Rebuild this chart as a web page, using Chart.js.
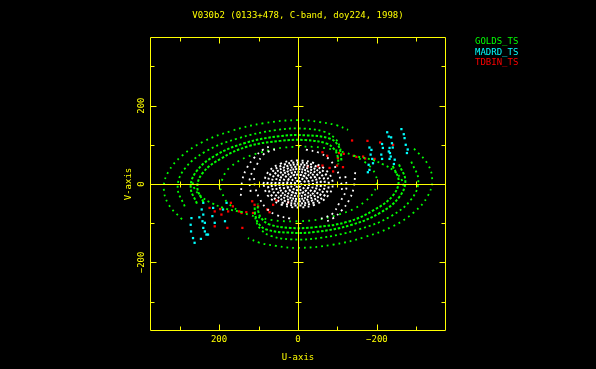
<!DOCTYPE html>
<html><head><meta charset="utf-8">
<script src="https://cdn.jsdelivr.net/npm/chart.js@4.4.1/dist/chart.umd.min.js"></script>
<style>html,body{margin:0;padding:0;background:#000;overflow:hidden}canvas{display:block}</style>
</head><body>
<canvas id="c" width="596" height="369"></canvas>
<script>
const titleText = 'V030b2 (0133+478, C-band, doy224, 1998)';
const xAxisTitle = 'U-axis';
const yAxisTitle = 'V-axis';
const tickValues = [-300, -200, -100, 0, 100, 200, 300];
const labelValues = [-200, 0, 200];
const legendLabels = ['GOLDS_TS', 'MADRD_TS', 'TDBIN_TS'];
const axisRange = [-375, 375];

// GOLDS_TS tracks [u, v]
const goldsOuterA = [[294,-90],[328,-52],[340,-10],[328,32],[294,72],[240,108],[170,135],[88,155],[0,163],[-55,158],[-97,150],[-127,138]];
const goldsOuterB = [[-294,90],[-328,52],[-340,10],[-328,-32],[-294,-72],[-240,-108],[-170,-135],[-88,-155],[0,-163],[55,-158],[97,-150],[127,-138]];
const goldsMidA = [[287,-57],[305,-9],[287,39],[234,83],[153,116],[53,138],[-20,141],[-70,132],[-95,115],[-106,95],[-110,72]];
const goldsMidB = [[-287,57],[-305,9],[-287,-39],[-234,-83],[-153,-116],[-53,-138],[20,-141],[70,-132],[95,-115],[106,-95],[110,-72]];
const goldsBandA = [[256,-50],[272,-8],[256,34],[209,73],[136,104],[47,122],[-24,124],[-80,116],[-100,101],[-108,80],[-110,58]];
const goldsBandB = [[240,-46],[255,-8],[240,30],[195,65],[127,96],[44,110],[-20,112],[-73,103],[-93,87],[-101,68],[-102,50]];
const goldsBandC = [[-256,50],[-272,8],[-256,-34],[-209,-73],[-136,-104],[-47,-122],[24,-124],[80,-116],[100,-101],[108,-80],[110,-58]];
const goldsBandD = [[-240,46],[-255,8],[-240,-30],[-195,-65],[-127,-96],[-44,-110],[20,-112],[73,-103],[93,-87],[101,-68],[102,-50]];
const goldsSideA = [[-140,72],[-186,62],[-220,48],[-245,32],[-262,12],[-268,-8]];
const goldsSideB = [[140,-72],[186,-62],[220,-48],[245,-32],[262,-12],[268,8]];
const goldsInner = [[200,-6],[173,42],[100,79],[0,95],[-100,85],[-173,53],[-200,6],[-173,-42],[-100,-79],[0,-95],[100,-85],[173,-53],[200,-6]];

// MADRD_TS points [u, v]
const madrdPoints = [[-262,140],[-268,127],[-270,117],[-273,100],[-236,119],[-238,104],[-240,93],[-232,92],[-230,83],[-233,79],[-235,70],[-232,64],[-226,132],[-230,121],[-213,102],[-215,92],[-211,75],[-213,64],[-181,93],[-186,87],[-184,75],[-179,49],[-181,36],[-177,30],[-188,64],[-190,53],[-243,51],[-245,62],[-278,88],[-276,79],
  [240,-48],[244,-65],[240,-78],[242,-95],[236,-99],[240,-112],[236,-121],[232,-129],[270,-87],[272,-104],[271,-121],[266,-138],[215,-61],[217,-82],[211,-99],[190,-65],[185,-95],[181,-48],[228,-129],[262,-150],[246,-140],[250,-85]];

// TDBIN_TS points [u, v]
const tdbinPoints = [[-137,111],[-176,110],[-208,106],[-241,100],[-62,81],[-74,72],[-104,79],[-116,77],[-101,66],[-141,72],[-148,69],[-165,70],[-170,65],[-194,64],[-99,47],[-114,43],[-62,47],[-80,41],[-89,32],[-51,45],[-25,45],
  [224,-61],[211,-70],[197,-64],[194,-78],[177,-70],[170,-48],[165,-57],[149,-70],[143,-74],[131,-72],[116,-44],[110,-53],[101,-57],[114,-74],[78,-65],[72,-72],[63,-53],[55,-42],[211,-108],[179,-112],[141,-112],[25,-47]];

// other baselines (white) [u, v]
const ring1 = [[8,0],[7,4],[4,7],[0,8],[-4,7],[-7,4],[-8,0],[-7,-4],[-4,-7],[0,-8],[4,-7],[7,-4],[8,0]];
const ring2 = [[18,0],[16,8],[9,14],[0,16],[-9,14],[-16,8],[-18,0],[-16,-8],[-9,-14],[0,-16],[9,-14],[16,-8],[18,0]];
const ring3 = [[28,0],[24,12],[14,21],[0,24],[-14,21],[-24,12],[-28,0],[-24,-12],[-14,-21],[0,-24],[14,-21],[24,-12],[28,0]];
const ring4 = [[38,0],[33,16],[19,27],[0,31],[-19,27],[-33,16],[-38,0],[-33,-16],[-19,-27],[0,-31],[19,-27],[33,-16],[38,0]];
const ring5 = [[48,0],[42,19],[24,33],[0,38],[-24,33],[-42,19],[-48,0],[-42,-19],[-24,-33],[0,-38],[24,-33],[42,-19],[48,0]];
const ring6 = [[58,0],[50,22],[29,38],[0,44],[-29,38],[-50,22],[-58,0],[-50,-22],[-29,-38],[0,-44],[29,-38],[50,-22],[58,0]];
const ring7 = [[68,0],[59,25],[34,43],[0,50],[-34,43],[-59,25],[-68,0],[-59,-25],[-34,-43],[0,-50],[34,-43],[59,-25],[68,0]];
const ring8 = [[78,0],[68,28],[39,48],[0,55],[-39,48],[-68,28],[-78,0],[-68,-28],[-39,-48],[0,-55],[39,-48],[68,-28],[78,0]];
const ring9 = [[88,0],[76,30],[44,52],[0,60],[-44,52],[-76,30],[-88,0],[-76,-30],[-44,-52],[0,-60],[44,-52],[76,-30],[88,0]];
const whiteArcA = [[-20,88],[-55,79],[-80,62],[-97,38],[-108,10],[-112,-20]];
const whiteArcB = [[20,-88],[55,-79],[80,-62],[97,-38],[108,-10],[112,20]];
const whiteArcC = [[145,-30],[141,10],[130,40],[110,68],[88,88],[65,98]];
const whiteArcD = [[-145,30],[-141,-10],[-130,-40],[-110,-68],[-88,-88],[-65,-98]];
const whiteArcE = [[120,-20],[122,14],[105,48],[89,74],[72,84],[50,90]];
const whiteArcF = [[-120,20],[-122,-14],[-105,-48],[-89,-74],[-72,-84],[-50,-90]];

const YEL = '#ffff00', GRN = '#00ff00', CYN = '#00ffff', RED = '#ff0000', WHT = '#ffffff';
const pts = a => a.map(([u, v]) => ({x: u, y: v}));
function track(arr, color, width, dash, label) {
  return {label: label, data: pts(arr), showLine: true, borderColor: color, backgroundColor: color,
    borderWidth: width, borderDash: dash, pointRadius: 0, tension: 0.4, fill: false, borderCapStyle: 'butt'};
}
function dots(arr, color, label) {
  return {label: label, data: pts(arr), showLine: false, pointStyle: 'rect', pointRadius: 1.6,
    pointBorderWidth: 0, backgroundColor: color, borderColor: color};
}

const datasets = [];
const ringDash = [[2, 1], [2, 1.5], [2.5, 1], [2, 1.5], [2, 1], [2, 2], [2, 1.5], [2, 2.5]];
[ring1, ring2, ring3, ring4, ring5, ring6, ring7, ring8].forEach((r, i) => datasets.push(track(r, WHT, 2, ringDash[i], 'other')));
datasets.push(track(ring9, WHT, 1.8, [2, 3.5], 'other'));
[whiteArcA, whiteArcB, whiteArcC, whiteArcD, whiteArcE, whiteArcF].forEach(r => datasets.push(track(r, WHT, 1.8, [1.8, 4], 'other')));
[goldsOuterA, goldsOuterB].forEach(r => datasets.push(track(r, GRN, 1.8, [1.8, 4], legendLabels[0])));
[goldsMidA, goldsMidB].forEach(r => datasets.push(track(r, GRN, 1.8, [2, 3], legendLabels[0])));
[goldsBandA, goldsBandB, goldsBandC, goldsBandD].forEach(r => datasets.push(track(r, GRN, 2, [2.5, 1.8], legendLabels[0])));
[goldsSideA, goldsSideB].forEach(r => datasets.push(track(r, GRN, 1.8, [2, 3], legendLabels[0])));
datasets.push(track(goldsInner, GRN, 1.8, [1.8, 4.5], legendLabels[0]));
datasets.push(dots(madrdPoints, CYN, legendLabels[1]));
datasets.push(dots(tdbinPoints, RED, legendLabels[2]));

const FONT = '9px "DejaVu Sans Mono", "Liberation Mono", monospace';
const decor = {
  id: 'decor',
  beforeDraw(chart) {
    const c = chart.ctx;
    c.save(); c.fillStyle = '#000'; c.fillRect(0, 0, chart.width, chart.height); c.restore();
  },
  afterDatasetsDraw(chart) {
    const c = chart.ctx, xs = chart.scales.x, ys = chart.scales.y, a = chart.chartArea;
    const L = Math.round(a.left) + 0.5, R = Math.round(a.right) - 0.5, T = Math.round(a.top) + 0.5, B = Math.round(a.bottom) - 0.5;
    c.save();
    c.strokeStyle = YEL; c.lineWidth = 1; c.setLineDash([]);
    c.beginPath();
    c.rect(L, T, R - L, B - T);
    const x0 = Math.round(xs.getPixelForValue(0)) + 0.5;
    const y0 = Math.round(ys.getPixelForValue(0)) + 0.5;
    c.moveTo(x0, T); c.lineTo(x0, B);
    c.moveTo(L, y0); c.lineTo(R, y0);
    tickValues.forEach(t => {
      const major = t % 200 === 0;
      const fl = major ? 6 : 4, cl = major ? 5 : 3;
      const px = Math.round(xs.getPixelForValue(t)) + 0.5;
      const py = Math.round(ys.getPixelForValue(t)) + 0.5;
      c.moveTo(px, T); c.lineTo(px, T + fl);
      c.moveTo(px, B); c.lineTo(px, B - fl);
      c.moveTo(L, py); c.lineTo(L + fl, py);
      c.moveTo(R, py); c.lineTo(R - fl, py);
      c.moveTo(px, y0 - cl); c.lineTo(px, y0 + cl);
      c.moveTo(x0 - cl, py); c.lineTo(x0 + cl, py);
    });
    c.stroke();
    c.fillStyle = YEL; c.font = FONT; c.textAlign = 'center'; c.textBaseline = 'middle';
    labelValues.forEach(t => {
      const s = t < 0 ? '\u2212' + Math.abs(t) : String(t);
      c.fillText(s, xs.getPixelForValue(t), a.bottom + 9);
      c.save();
      c.translate(a.left - 8, ys.getPixelForValue(t));
      c.rotate(-Math.PI / 2);
      c.fillText(s, 0, 0);
      c.restore();
    });
    c.fillText(xAxisTitle, (a.left + a.right) / 2, a.bottom + 27);
    c.save();
    c.translate(a.left - 21, (a.top + a.bottom) / 2);
    c.rotate(-Math.PI / 2);
    c.fillText(yAxisTitle, 0, 0);
    c.restore();
    c.fillText(titleText, (a.left + a.right) / 2, a.top - 21);
    c.textAlign = 'left';
    const cols = [GRN, CYN, RED];
    legendLabels.forEach((s, i) => { c.fillStyle = cols[i]; c.fillText(s, a.right + 29, a.top + 5 + i * 10.3); });
    c.restore();
  }
};

new Chart(document.getElementById('c'), {
  type: 'scatter',
  data: {datasets: datasets},
  options: {
    responsive: false, animation: false, devicePixelRatio: 1,
    layout: {padding: {left: 150, right: 150, top: 37, bottom: 38}},
    plugins: {legend: {display: false}, tooltip: {enabled: false}, title: {display: false}},
    scales: {
      x: {type: 'linear', reverse: true, min: axisRange[0], max: axisRange[1], display: false},
      y: {type: 'linear', min: axisRange[0], max: axisRange[1], display: false}
    }
  },
  plugins: [decor]
});
</script>
</body></html>
